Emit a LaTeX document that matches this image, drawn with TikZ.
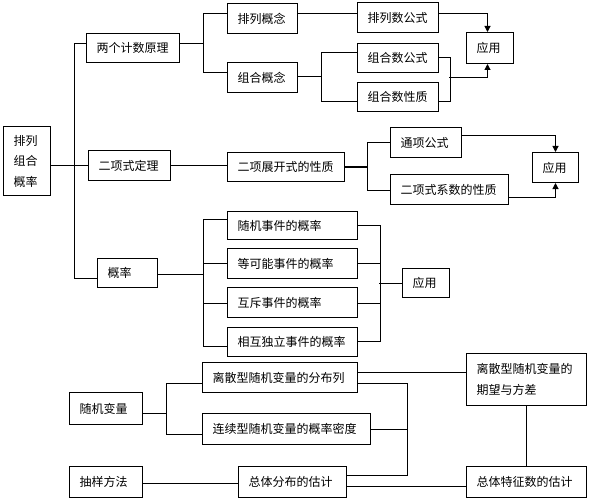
\documentclass[tikz,border=0pt]{standalone}
\usepackage{fontspec}
\setmainfont{Noto Sans CJK SC}
\usetikzlibrary{arrows.meta}
\tikzset{
  box/.style={draw, line width=1pt, inner xsep=10pt, inner ysep=0pt, align=left, anchor=north west, font=\fontsize{12}{20.5}\selectfont},
  arr/.style={-{Triangle[width=6pt,length=6pt]}}
}
\begin{document}
\begin{tikzpicture}[x=1pt,y=-1pt,line width=1pt]
\useasboundingbox (0,0) rectangle (589,500);
% nodes
\node[box, text width=27pt, minimum height=69pt] (root) at (3,126) {排列\\组合\\概率};
\node[box, text width=73pt, minimum height=29pt] (lys) at (86,33) {两个计数原理};
\node[box, text width=62pt, minimum height=30pt] (exs) at (88,150) {二项式定理};
\node[box, text width=40pt, minimum height=29pt] (gl) at (97,258) {概率};
\node[box, text width=50pt, minimum height=30pt] (plgn) at (227,3) {排列概念};
\node[box, text width=50pt, minimum height=30pt] (zhgn) at (227,62) {组合概念};
\node[box, text width=61pt, minimum height=30pt] (plsgs) at (357,2) {排列数公式};
\node[box, text width=61pt, minimum height=29pt] (zhsgs) at (357,43) {组合数公式};
\node[box, text width=61pt, minimum height=29pt] (zhsxz) at (357,82) {组合数性质};
\node[box, text width=27pt, minimum height=31pt] (yy1) at (466,32) {应用};
\node[box, text width=97pt, minimum height=29pt] (ezk) at (227,152) {二项展开式的性质};
\node[box, text width=51pt, minimum height=30pt] (txgs) at (390,127) {通项公式};
\node[box, text width=98pt, minimum height=30pt] (exsxs) at (390,174) {二项式系数的性质};
\node[box, text width=26pt, minimum height=30pt] (yy2) at (532,152) {应用};
\node[box, text width=110pt, minimum height=28pt] (gl1) at (227,211) {随机事件的概率};
\node[box, text width=110pt, minimum height=30pt] (gl2) at (227,248) {等可能事件的概率};
\node[box, text width=110pt, minimum height=30pt] (gl3) at (227,287) {互斥事件的概率};
\node[box, text width=110pt, minimum height=29pt] (gl4) at (227,327) {相互独立事件的概率};
\node[box, text width=27pt, minimum height=29pt] (yy3) at (402,268) {应用};
\node[box, text width=53pt, minimum height=32pt] (sjbl) at (69,392) {随机变量};
\node[box, text width=135pt, minimum height=30pt] (lsx) at (202,362) {离散型随机变量的分布列};
\node[box, text width=148pt, minimum height=31pt] (lxx) at (202,413) {连续型随机变量的概率密度};
\node[box, text width=53pt, minimum height=31pt] (cyff) at (69,466) {抽样方法};
\node[box, text width=88pt, minimum height=31pt] (ztfb) at (238,466) {总体分布的估计};
\node[box, text width=100pt, minimum height=52pt] (qw) at (466,353) {离散型随机变量的\\期望与方差};
\node[box, text width=100pt, minimum height=31pt] (ztts) at (466,466) {总体特征数的估计};
% top section
\draw (root.east |- exs.west) -- (exs.west);
\draw ([yshift=4.5pt]lys.west) -- ++(-12,0) |- ([yshift=-5.5pt]gl.west);
\draw ([yshift=4.5pt]lys.east) -- ++(24,0);
\draw ([yshift=5pt]plgn.west) -- ++(-24,0) |- ([yshift=5pt]zhgn.west);
\draw ([yshift=5pt]plgn.east) -- ([yshift=4pt]plsgs.west);
\draw ([yshift=1pt]zhgn.east) -- ++(24,0);
\draw ([yshift=5.5pt]zhsgs.west) -- ++(-36,0) |- ([yshift=-4.5pt]zhsxz.west);
\draw[arr] ([yshift=4pt]plsgs.east) -| ([xshift=-2.5pt]yy1.north);
\draw (zhsgs.east) -- ++(11,0) |- ([yshift=-4.5pt]zhsxz.east);
\coordinate (m1) at (449,78);
\draw[arr] (m1) -| ([xshift=-2.5pt]yy1.south);
% binomial
\draw (exs.east) -- (exs.east -| ezk.west);
\draw (ezk.east) -- ++(23,0);
\draw (txgs.west) -- ++(-23,0) |- ([yshift=-1pt]exsxs.west);
\draw[arr] ([yshift=7pt]txgs.east) -| (yy2.north);
\draw[arr] ([yshift=-8pt]exsxs.east) -| (yy2.south);
% probability
\draw ([yshift=-1.5pt]gl.east) -- ++(46,0);
\draw ([yshift=6pt]gl1.west) -- ++(-24,0) |- ([yshift=-4.5pt]gl4.west);
\draw (gl2.west) -- ++(-24,0);
\draw ([yshift=-1pt]gl3.west) -- ++(-24,0);
\draw (gl1.east) -- ++(22,0) |- ([yshift=0.5pt]gl4.east);
\draw (gl2.east) -- ++(22,0);
\draw ([yshift=-1pt]gl3.east) -- ++(22,0);
\draw (yy3.west) -- ++(-23,0);
% random variables
\draw ([yshift=-5pt]sjbl.east) -- ++(24,0);
\draw ([yshift=-6pt]lsx.west) -- ++(-36,0) |- ([yshift=-5.5pt]lxx.west);
\draw ([yshift=5pt]lsx.east) -- ([yshift=7pt]qw.west);
\draw ([yshift=-6pt]lsx.east) -- ++(49,0) |- ([yshift=6.5pt]ztfb.east);
\draw ([yshift=-0.5pt]lxx.east) -- ++(36,0);
\draw ([yshift=-1.5pt]cyff.east) -- ([yshift=-1.5pt]ztfb.west);
\draw ([yshift=-4.5pt]ztfb.east) -- ([yshift=-4.5pt]ztts.west);
\draw (qw.south) -- (ztts.north);
\end{tikzpicture}
\end{document}
